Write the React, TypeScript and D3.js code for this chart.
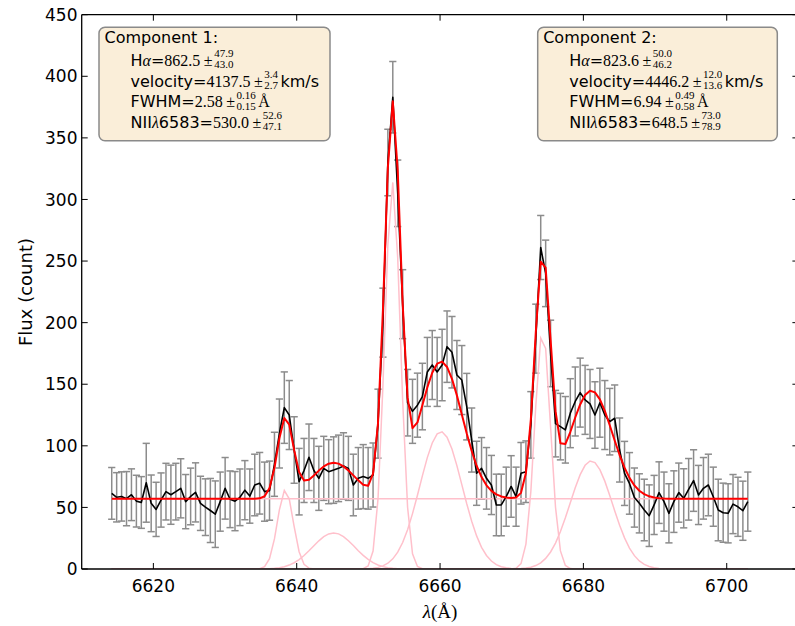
import React from "react";
import * as d3 from "d3";

// ---------- data ----------
const WAVE_START = 6614.19;
const WAVE_STEP = 0.688;

const FLUX = [
  61.4, 58.2, 58.9, 57.1, 60.3, 55.1, 54.0, 70.0, 53.3, 48.4,
  56.0, 62.8, 60.3, 62.8, 65.5, 54.7, 58.9, 62.2, 53.3, 50.2,
  47.5, 44.5, 54.7, 65.5, 56.6, 55.1, 58.2, 64.0, 59.2, 68.2,
  69.6, 62.8, 63.6, 85.0, 110.0, 131.0, 125.0, 96.6, 70.9, 80.0,
  90.7, 80.0, 73.6, 81.7, 79.0, 80.3, 81.7, 83.6, 81.7, 68.2,
  73.6, 75.0, 73.6, 76.3, 118.0, 200.0, 330.0, 383.0, 305.0, 215.0,
  135.0, 128.0, 133.0, 140.0, 160.0, 165.6, 160.0, 165.6, 180.5, 176.0,
  157.5, 153.4, 131.8, 104.7, 77.7, 81.7, 73.6, 68.2, 52.0, 52.0,
  58.7, 67.0, 58.7, 77.7, 79.0, 117.0, 187.0, 261.0, 240.0, 175.0,
  118.0, 115.6, 113.0, 126.5, 136.0, 143.2, 137.3, 134.0, 125.0, 135.0,
  125.0, 119.6, 122.4, 96.6, 77.6, 69.5, 58.0, 53.3, 47.9, 43.3,
  52.0, 62.0, 54.7, 45.2, 54.7, 62.0, 57.4, 64.7, 71.8, 60.1,
  65.5, 68.2, 58.7, 47.9, 45.7, 45.2, 52.7, 50.5, 47.3, 54.7,
];

const ERR = [
  21, 20, 20, 22, 21, 21, 21, 32, 23, 22,
  22, 23, 24, 23, 24, 22, 23, 24, 22, 23,
  26, 27, 24, 25, 23, 24, 23, 24, 22, 25,
  25, 24, 24, 26, 28, 29, 28, 27, 27, 26,
  27, 26, 26, 26, 26, 27, 27, 27, 26, 25,
  25, 26, 25, 26, 28, 28, 27, 29, 27, 28,
  27, 26, 26, 27, 28, 28, 28, 29, 29, 29,
  28, 28, 27, 26, 26, 25, 25, 24, 25, 25,
  24, 25, 24, 25, 25, 27, 28, 26, 27, 27,
  27, 27, 27, 28, 28, 28, 28, 28, 27, 28,
  28, 27, 27, 26, 26, 25, 24, 24, 25, 25,
  24, 25, 24, 24, 25, 24, 24, 25, 25, 24,
  25, 25, 24, 25, 24, 24, 24, 24, 24, 24,
];

// model components (Gaussian lines)
const CONTINUUM = 57.0;
const LINE_CENTERS = [6638.42, 6653.37, 6674.31, 6645.16, 6660.13, 6681.09];
const LINE_AMPS = [64.3, 314.0, 193.0, 29.3, 111.5, 87.8];
const LINE_SIGMAS = [1.096, 1.096, 1.096, 2.947, 2.947, 2.947];

const X_TICKS = [6620, 6640, 6660, 6680, 6700];
const Y_TICKS = [0, 50, 100, 150, 200, 250, 300, 350, 400, 450];

const COMP_TITLES = ["Component 1:", "Component 2:"];
const HA_VALUES = [["862.5", "47.9", "43.0"], ["823.6", "50.0", "46.2"]];
const VEL_VALUES = [["4137.5", "3.4", "2.7"], ["4446.2", "12.0", "13.6"]];
const FWHM_VALUES = [["2.58", "0.16", "0.15"], ["6.94", "0.49", "0.58"]];
const NII_VALUES = [["530.0", "52.6", "47.1"], ["648.5", "73.0", "78.9"]];

// ---------- styling ----------
const SANS = "DejaVu Sans";
const SERIF = "Liberation Serif";
const W = 795;
const H = 626;
const PLOT = { left: 81.7, right: 798.4, top: 14.7, bottom: 569 };
const BOX_FS = 16;
const NUM_FS = 16;
const SCRIPT_FS = 11;

const x = d3.scaleLinear().domain([6610, 6710]).range([PLOT.left, PLOT.right]);
const y = d3.scaleLinear().domain([0, 450]).range([PLOT.bottom, PLOT.top]);

const WAVES = d3.range(FLUX.length).map((i) => WAVE_START + WAVE_STEP * i);

function gauss(w: number, k: number) {
  const d = w - LINE_CENTERS[k];
  return LINE_AMPS[k] * Math.exp(-(d * d) / (2 * LINE_SIGMAS[k] * LINE_SIGMAS[k]));
}

const line = d3
  .line<[number, number]>()
  .x((d) => x(d[0]))
  .y((d) => y(d[1]));

type Piece = { t: string; serif?: boolean; italic?: boolean };

function ScriptLine(props: {
  x: number;
  y: number;
  prefix: Piece[];
  vals: string[];
  unit?: Piece;
}) {
  const ss = SCRIPT_FS;
  const wOf = (s: string) =>
    [...s].reduce((a, c) => a + (c === "." ? 0.25 : 0.5), 0) * ss;
  const [val, sup, sub] = props.vals;
  const dxBack = -wOf(sup);
  const tail = wOf(sup) - wOf(sub);
  return (
    <text x={props.x} y={props.y} fontSize={BOX_FS} fill="#000">
      {props.prefix.map((p, i) => (
        <tspan
          key={i}
          fontFamily={p.serif ? SERIF : SANS}
          fontStyle={p.italic ? "italic" : "normal"}
          fontSize={p.serif ? NUM_FS : BOX_FS}
        >
          {p.t}
        </tspan>
      ))}
      <tspan fontFamily={SERIF} fontSize={NUM_FS}>{val}</tspan>
      <tspan fontFamily={SERIF} fontSize={NUM_FS} dx={3.5}>
        ±
      </tspan>
      <tspan fontFamily={SERIF} fontSize={ss} dx={1.5} dy={-8.4}>
        {sup}
      </tspan>
      <tspan fontFamily={SERIF} fontSize={ss} dx={dxBack} dy={11}>
        {sub}
      </tspan>
      {props.unit ? (
        <tspan
          fontFamily={props.unit.serif ? SERIF : SANS}
          fontSize={props.unit.serif ? NUM_FS : BOX_FS}
          dx={2.5 + Math.max(0, tail)}
          dy={-2.6}
        >
          {props.unit.t}
        </tspan>
      ) : null}
    </text>
  );
}

function InfoBox(props: { k: number; bx: number; by: number; bw: number; bh: number }) {
  const { k, bx, by, bw, bh } = props;
  const tx = bx + 5.5;
  const ix = tx + 26;
  const b = [by + 15.3, by + 38.5, by + 59.3, by + 80, by + 100.4];
  return (
    <g>
      <rect
        x={bx}
        y={by}
        width={bw}
        height={bh}
        rx={6}
        ry={6}
        fill="#faeed9"
        stroke="#8a8a8a"
        strokeWidth={1.5}
      />
      <text x={tx} y={b[0]} fontFamily={SANS} fontSize={BOX_FS} fill="#000">
        {COMP_TITLES[k]}
      </text>
      <ScriptLine
        x={ix}
        y={b[1]}
        prefix={[{ t: "H" }, { t: "α", serif: true, italic: true }, { t: "=" }]}
        vals={HA_VALUES[k]}
      />
      <ScriptLine
        x={ix}
        y={b[2]}
        prefix={[{ t: "velocity=" }]}
        vals={VEL_VALUES[k]}
        unit={{ t: "km/s" }}
      />
      <ScriptLine
        x={ix}
        y={b[3]}
        prefix={[{ t: "FWHM=" }]}
        vals={FWHM_VALUES[k]}
        unit={{ t: "Å", serif: true }}
      />
      <ScriptLine
        x={ix}
        y={b[4]}
        prefix={[{ t: "NII" }, { t: "λ", serif: true, italic: true }, { t: "6583=" }]}
        vals={NII_VALUES[k]}
      />
    </g>
  );
}

export default function App() {
  const dataPts: [number, number][] = WAVES.map((w, i) => [w, FLUX[i]]);
  const modelPts: [number, number][] = WAVES.map((w) => [
    w,
    CONTINUUM + LINE_CENTERS.reduce((a, _c, k) => a + gauss(w, k), 0),
  ]);
  const contPts: [number, number][] = [
    [WAVES[0], CONTINUUM],
    [WAVES[WAVES.length - 1], CONTINUUM],
  ];
  const compPaths = LINE_CENTERS.map((_c, k) =>
    line(WAVES.map((w) => [w, gauss(w, k)] as [number, number]))
  );
  const cap = 3.6;

  return (
    <div style={{ position: "absolute", left: 0, top: 0 }}>
      <svg width={W} height={H} style={{ display: "block", background: "#fff" }}>
        <defs>
          <clipPath id="plotclip">
            <rect x={PLOT.left} y={PLOT.top - 5} width={PLOT.right - PLOT.left} height={PLOT.bottom - PLOT.top + 5} />
          </clipPath>
        </defs>
        <rect x={0} y={0} width={W} height={H} fill="#fff" />

        {/* error bars */}
        <g stroke="#8c8c8c" strokeWidth={1.5} fill="none">
          {WAVES.map((w, i) => {
            const cx = x(w);
            const y1 = y(FLUX[i] + ERR[i]);
            const y2 = y(FLUX[i] - ERR[i]);
            return (
              <g key={i}>
                <line x1={cx} x2={cx} y1={y1} y2={y2} />
                <line x1={cx - cap} x2={cx + cap} y1={y1} y2={y1} />
                <line x1={cx - cap} x2={cx + cap} y1={y2} y2={y2} />
              </g>
            );
          })}
        </g>

        {/* components */}
        <g clipPath="url(#plotclip)" fill="none" stroke="pink" strokeWidth={1.5}>
          <path d={line(contPts) || ""} />
          {compPaths.map((p, k) => (
            <path key={k} d={p || ""} />
          ))}
        </g>

        {/* data */}
        <path d={line(dataPts) || ""} fill="none" stroke="#000" strokeWidth={1.6} strokeLinejoin="round" />
        {/* model */}
        <path d={line(modelPts) || ""} fill="none" stroke="red" strokeWidth={2} strokeLinejoin="round" />

        {/* frame */}
        <g stroke="#000" strokeWidth={1.3} fill="none">
          <line x1={PLOT.left} x2={PLOT.left} y1={PLOT.top} y2={PLOT.bottom} />
          <line x1={PLOT.left} x2={PLOT.right} y1={PLOT.bottom} y2={PLOT.bottom} />
          <line x1={PLOT.left} x2={PLOT.right} y1={PLOT.top} y2={PLOT.top} />
          <line x1={PLOT.right} x2={PLOT.right} y1={PLOT.top} y2={PLOT.bottom} />
        </g>

        {/* ticks */}
        <g stroke="#000" strokeWidth={1}>
          {X_TICKS.map((t) => (
            <g key={t}>
              <line x1={x(t)} x2={x(t)} y1={PLOT.bottom} y2={PLOT.bottom - 6} />
              <line x1={x(t)} x2={x(t)} y1={PLOT.top} y2={PLOT.top + 6} />
            </g>
          ))}
          {Y_TICKS.map((t) => (
            <g key={t}>
              <line x1={PLOT.left} x2={PLOT.left + 6} y1={y(t)} y2={y(t)} />
              <line x1={PLOT.right} x2={PLOT.right - 6} y1={y(t)} y2={y(t)} />
            </g>
          ))}
        </g>
        <g fontFamily={SANS} fontSize={17} fill="#000">
          {X_TICKS.map((t) => (
            <text key={t} x={x(t)} y={591.7} textAnchor="middle">
              {t}
            </text>
          ))}
          {Y_TICKS.map((t) => (
            <text key={t} x={77.5} y={y(t)} dy="0.36em" textAnchor="end">
              {t}
            </text>
          ))}
        </g>

        {/* axis labels */}
        <text
          transform="translate(25,292) rotate(-90)"
          textAnchor="middle"
          dominantBaseline="central"
          fontFamily={SANS}
          fontSize={18}
          fill="#000"
        >
          Flux (count)
        </text>
        <text x={440} y={618} textAnchor="middle" fontFamily={SERIF} fontSize={19} fill="#000">
          <tspan fontStyle="italic">λ</tspan>(Å)
        </text>

        {/* info boxes */}
        <InfoBox k={0} bx={99} by={27.3} bw={231} bh={113.4} />
        <InfoBox k={1} bx={537.7} by={27.3} bw={239.6} bh={113.4} />
      </svg>
    </div>
  );
}
